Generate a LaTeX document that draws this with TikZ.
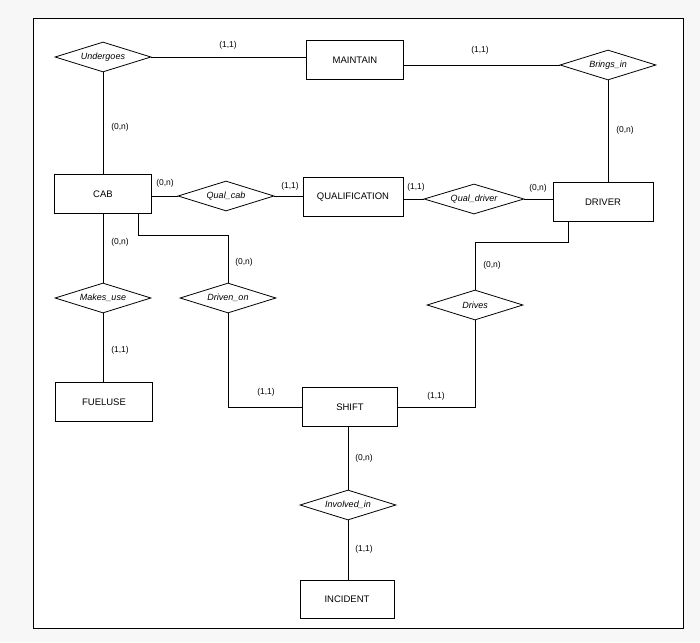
\documentclass[tikz,border=0pt]{standalone}
\usepackage{fontspec}
\setmainfont{Liberation Sans}
\usetikzlibrary{shapes.geometric}
\begin{document}
\begin{tikzpicture}[x=1pt,y=-1pt,
  ent/.style={draw,thick,minimum width=97pt,minimum height=39pt,font=\fontsize{9.5}{11}\selectfont},
  rel/.style={draw,thick,diamond,aspect=3.2,inner sep=1pt,minimum width=96pt,minimum height=30pt,font=\itshape\fontsize{9}{11}\selectfont},
  lbl/.style={font=\fontsize{8.5}{10}\selectfont},
  every path/.style={thick}]
\useasboundingbox (0,0) rectangle (700,642);
\fill[gray!6] (0,0) rectangle (700,642);
\draw[thick,fill=white] (33,18) rectangle (683,628);
\node[rel] (und) at (103,57) {Undergoes};
\node[ent] (mai) at (355,60) {MAINTAIN};
\node[rel] (bri) at (608,65) {Brings\_in};
\node[ent] (cab) at (103,194) {CAB};
\node[rel] (qc) at (226,196) {Qual\_cab};
\node[ent,minimum width=100pt] (qua) at (353,197) {QUALIFICATION};
\node[rel,minimum width=100pt] (qd) at (474,199) {Qual\_driver};
\node[ent,minimum width=100pt] (dri) at (603,202) {DRIVER};
\node[rel] (mu) at (103,298) {Makes\_use};
\node[rel] (dro) at (228,298) {Driven\_on};
\node[rel] (drv) at (475,305) {Drives};
\node[ent] (fu) at (104,402) {FUELUSE};
\node[ent,minimum width=95pt] (sh) at (350,407) {SHIFT};
\node[rel] (inv) at (348,505) {Involved\_in};
\node[ent,minimum width=94pt,minimum height=38pt] (inc) at (347,599) {INCIDENT};
\draw (und) -- (mai.west|-und);
\draw (mai.east|-bri) -- (bri);
\draw (und) -- (und|-cab.north);
\draw (bri) -- (bri|-dri.north);
\draw (cab.east|-qc) -- (qc);
\draw (qc) -- (qua.west|-qc);
\draw (qua.east|-qd) -- (qd);
\draw (qd) -- (dri.west|-qd);
\draw (cab) -- (mu);
\draw (mu) -- (mu|-fu.north);
\coordinate (c1) at (138,235);
\draw (cab.south-|c1) -- (c1) -- (dro.north|-c1) -- (dro.north);
\draw (dro.south) -- (dro.south|-sh.west) -- (sh.west);
\coordinate (d1) at (568,242);
\draw (dri.south-|d1) -- (d1) -- (drv.north|-d1) -- (drv.north);
\draw (drv.south) -- (drv.south|-sh.east) -- (sh.east);
\draw (sh.south-|inv) -- (inv);
\draw (inv) -- (inv|-inc.north);
\node[lbl] at (228,45) {(1,1)};
\node[lbl] at (480,50) {(1,1)};
\node[lbl] at (120,127) {(0,n)};
\node[lbl] at (625,130) {(0,n)};
\node[lbl] at (165,183) {(0,n)};
\node[lbl] at (290,186) {(1,1)};
\node[lbl] at (416,187) {(1,1)};
\node[lbl] at (538,188) {(0,n)};
\node[lbl] at (120,242) {(0,n)};
\node[lbl] at (120,350) {(1,1)};
\node[lbl] at (244,262) {(0,n)};
\node[lbl] at (266,392) {(1,1)};
\node[lbl] at (492,265) {(0,n)};
\node[lbl] at (436,396) {(1,1)};
\node[lbl] at (364,458) {(0,n)};
\node[lbl] at (364,549) {(1,1)};
\end{tikzpicture}
\end{document}
